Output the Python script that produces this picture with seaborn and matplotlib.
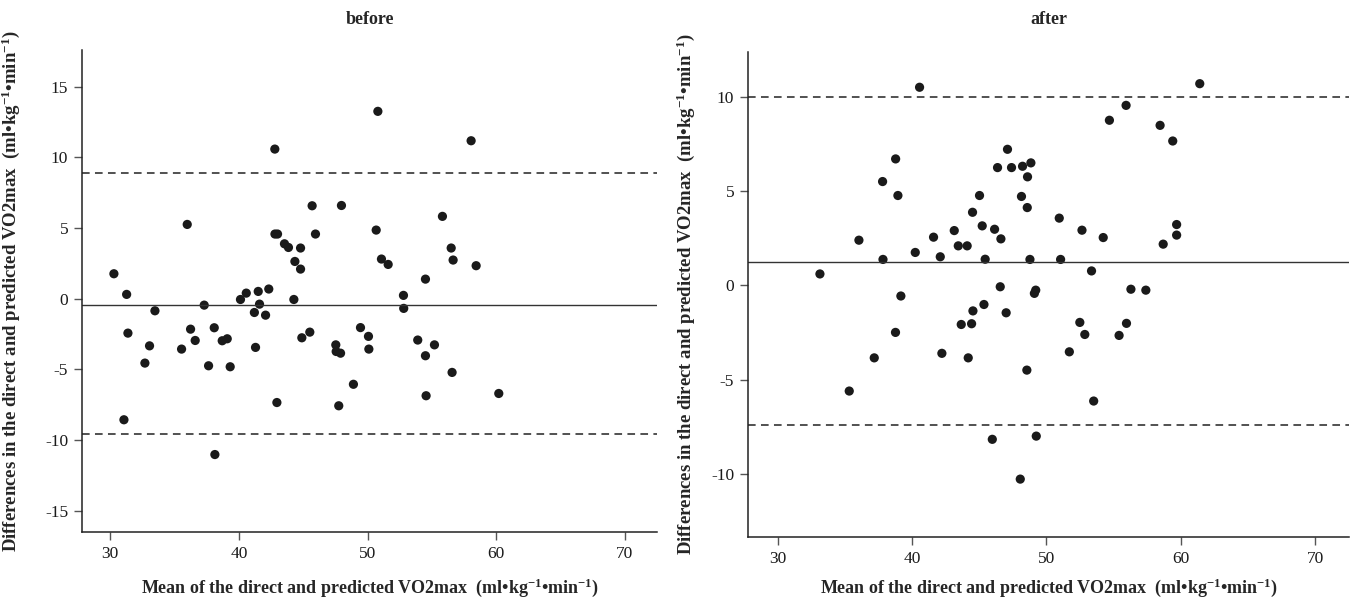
import matplotlib
matplotlib.use("Agg")
import matplotlib.pyplot as plt
import seaborn as sns
import pandas as pd

# ---- data ----
before_mean = [30.28, 31.27, 35.98, 42.79, 45.69, 47.97, 42.80, 43.00, 45.95, 43.54,
               43.85, 44.79, 44.35, 44.79, 40.57, 41.50, 42.32, 40.12, 44.27, 33.47,
               31.37, 33.05, 32.69, 31.06, 35.54, 36.24, 36.60, 37.30, 38.08, 37.64,
               38.70, 39.09, 39.32, 38.13, 41.60, 41.20, 42.07, 41.29, 42.95, 44.89,
               45.51, 47.53, 47.56, 47.90, 47.76, 48.90, 49.45, 50.80, 58.05, 55.82,
               50.67, 56.50, 56.65, 51.08, 51.60, 58.44, 54.50, 52.79, 52.81, 50.07,
               50.10, 53.90, 55.20, 54.50, 56.57, 54.55, 60.20]
before_diff = [1.77, 0.31, 5.26, 10.59, 6.58, 6.60, 4.58, 4.58, 4.58, 3.89,
               3.63, 3.59, 2.64, 2.10, 0.40, 0.52, 0.69, -0.05, -0.05, -0.85,
               -2.43, -3.33, -4.55, -8.56, -3.56, -2.15, -2.95, -0.45, -2.05, -4.74,
               -2.97, -2.83, -4.81, -11.02, -0.38, -0.97, -1.16, -3.44, -7.34, -2.76,
               -2.36, -3.26, -3.73, -3.85, -7.57, -6.05, -2.04, 13.26, 11.18, 5.83,
               4.86, 3.59, 2.74, 2.81, 2.43, 2.34, 1.39, 0.24, -0.68, -2.66,
               -3.56, -2.92, -3.26, -4.03, -5.21, -6.86, -6.70]
before_bias = -0.45
before_loa = [8.9, -9.6]

after_mean = [40.56, 33.15, 36.05, 37.81, 38.78, 38.95, 37.84, 40.24, 41.60, 42.10,
              43.14, 43.44, 44.10, 44.50, 45.02, 45.22, 45.44, 46.14, 46.61, 46.36,
              47.10, 47.40, 48.22, 48.84, 48.59, 48.14, 48.57, 48.77, 39.17, 46.56,
              49.10, 49.20, 38.77, 37.19, 35.33, 42.22, 43.66, 44.43, 44.53, 45.35,
              47.00, 44.18, 48.54, 45.97, 49.24, 48.05, 61.40, 55.92, 54.68, 58.45,
              59.39, 50.95, 52.64, 54.22, 59.68, 59.68, 58.68, 51.05, 53.35, 56.28,
              57.39, 52.48, 52.85, 55.95, 55.40, 51.70, 53.51]
after_diff = [10.51, 0.61, 2.40, 5.51, 6.71, 4.77, 1.38, 1.75, 2.56, 1.52,
              2.91, 2.10, 2.10, 3.88, 4.77, 3.16, 1.39, 2.98, 2.47, 6.25,
              7.22, 6.25, 6.32, 6.50, 5.76, 4.72, 4.13, 1.38, -0.56, -0.07,
              -0.42, -0.25, -2.49, -3.84, -5.60, -3.60, -2.07, -2.03, -1.35, -1.01,
              -1.45, -3.84, -4.49, -8.16, -7.99, -10.27, 10.70, 9.55, 8.76, 8.49,
              7.66, 3.57, 2.93, 2.54, 3.23, 2.67, 2.19, 1.38, 0.77, -0.20,
              -0.25, -1.96, -2.60, -2.01, -2.65, -3.52, -6.13]
after_bias = 1.25
after_loa = [10.0, -7.4]

titles = ["before", "after"]
x_ticks = [30, 40, 50, 60, 70]
before_yticks = [-15, -10, -5, 0, 5, 10, 15]
after_yticks = [-10, -5, 0, 5, 10]

# ---- style ----
sns.set_style("ticks")
plt.rcParams['font.family'] = ['Liberation Serif', 'DejaVu Serif']
plt.rcParams['mathtext.fontset'] = 'custom'
plt.rcParams['mathtext.rm'] = 'Liberation Serif'
plt.rcParams['mathtext.bf'] = 'Liberation Serif:bold'
plt.rcParams['mathtext.it'] = 'Liberation Serif:italic'

fig = plt.figure(figsize=(13.6, 6.04), dpi=100)
ax1 = fig.add_axes([82/1360, 1-532/604, 575/1360, 482/604])
ax2 = fig.add_axes([748/1360, 1-537/604, 601/1360, 485/604])

xlabel = r"Mean of the direct and predicted VO2max  (ml•kg$^{\mathbf{-1}}$•min$^{\mathbf{-1}}$)"
ylabel = r"Differences in the direct and predicted VO2max  (ml•kg$^{\mathbf{-1}}$•min$^{\mathbf{-1}}$)"

panels = [
    (ax1, before_mean, before_diff, before_bias, before_loa, before_yticks, (-16.5, 17.6), -0.105),
    (ax2, after_mean, after_diff, after_bias, after_loa, after_yticks, (-13.34, 12.38), -0.085),
]

for i, (ax, xm, yd, bias, loa, yt, ylim, ylab_x) in enumerate(panels):
    df = pd.DataFrame({"mean": xm, "diff": yd})
    sns.scatterplot(data=df, x="mean", y="diff", ax=ax, color="#1a1a1a",
                    s=44, edgecolor="none", marker="o")
    ax.axhline(bias, color="#333333", lw=1.0, ls="-")
    for v in loa:
        ax.axhline(v, color="#222222", lw=1.1, ls=(0, (5, 3.5)))
    ax.set_xlim(27.8, 72.5)
    ax.set_ylim(*ylim)
    ax.set_xticks(x_ticks)
    ax.set_yticks(yt)
    ax.set_xticklabels([str(t) for t in x_ticks], fontsize=12.5)
    ax.set_yticklabels([str(t) for t in yt], fontsize=12.5)
    ax.tick_params(axis="both", length=6, width=1.0, color="#555555", pad=4,
                   labelcolor="#1a1a1a")
    for sp in ["top", "right"]:
        ax.spines[sp].set_visible(False)
    for sp in ["left", "bottom"]:
        ax.spines[sp].set_color("#222222")
        ax.spines[sp].set_linewidth(1.1)
    ax.set_xlabel("")
    ax.set_ylabel(ylabel, fontsize=13.5, fontweight="bold")
    ax.yaxis.set_label_coords(ylab_x, 0.5)

fig.text((82 + 657) / 2 / 1360, 1 - 19/604, titles[0], ha="center", va="center",
         fontsize=13, fontweight="bold")
fig.text((748 + 1349) / 2 / 1360, 1 - 19/604, titles[1], ha="center", va="center",
         fontsize=13, fontweight="bold")
fig.text((82 + 657) / 2 / 1360, 1 - 588/604, xlabel, ha="center", va="center",
         fontsize=13, fontweight="bold")
fig.text((748 + 1349) / 2 / 1360, 1 - 588/604, xlabel, ha="center", va="center",
         fontsize=13, fontweight="bold")

fig.savefig("out.png", dpi=100)
